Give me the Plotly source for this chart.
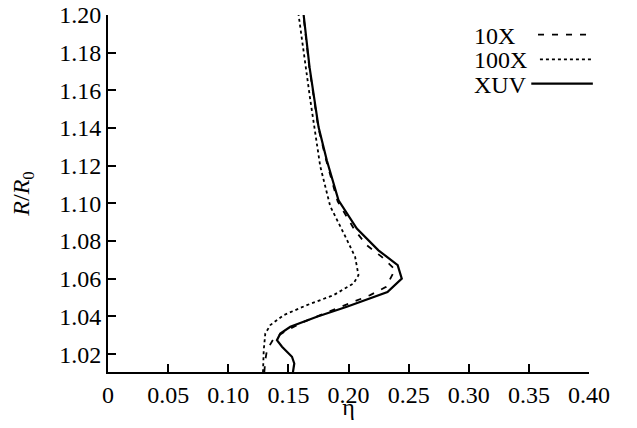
import plotly.graph_objects as go

# XUV (solid)
xuv_eta = [0.1538, 0.1549, 0.1530, 0.1447, 0.1405, 0.1433, 0.1516, 0.1737, 0.1986, 0.2180,
           0.2324, 0.2443, 0.2409, 0.2249, 0.2069, 0.1917, 0.1820, 0.1751, 0.1676, 0.1627]
xuv_r = [1.0104, 1.0150, 1.0186, 1.0239, 1.0274, 1.0309, 1.0345, 1.0398, 1.0451, 1.0495,
         1.0530, 1.0601, 1.0672, 1.0751, 1.0866, 1.1016, 1.1228, 1.1405, 1.1723, 1.2000]

# 10X (dashed)
x10_eta = [0.1300, 0.1308, 0.1322, 0.1378, 0.1488, 0.1627, 0.1765, 0.1903, 0.2042, 0.2180,
           0.2313, 0.2387, 0.2277, 0.2152, 0.2050, 0.1910, 0.1815, 0.1748, 0.1674, 0.1625]
x10_r = [1.0104, 1.0168, 1.0221, 1.0283, 1.0327, 1.0371, 1.0407, 1.0442, 1.0477, 1.0513,
         1.0557, 1.0649, 1.0716, 1.0778, 1.0860, 1.1010, 1.1228, 1.1405, 1.1723, 1.2000]

# 100X (dotted)
x100_eta = [0.1289, 0.1295, 0.1308, 0.1350, 0.1461, 0.1654, 0.1876, 0.2042, 0.2083, 0.2055,
            0.1986, 0.1848, 0.1765, 0.1682, 0.1585]
x100_r = [1.0104, 1.0221, 1.0309, 1.0354, 1.0407, 1.0460, 1.0513, 1.0575, 1.0619, 1.0716,
          1.0808, 1.0985, 1.1197, 1.1550, 1.2000]

x_tickvals = [0, 0.05, 0.10, 0.15, 0.20, 0.25, 0.30, 0.35, 0.40]
x_ticktext = ["0", "0.05", "0.10", "0.15", "0.20", "0.25", "0.30", "0.35", "0.40"]
y_tickvals = [1.02, 1.04, 1.06, 1.08, 1.10, 1.12, 1.14, 1.16, 1.18, 1.20]
y_ticktext = ["1.02", "1.04", "1.06", "1.08", "1.10", "1.12", "1.14", "1.16", "1.18", "1.20"]

legend_names = ["10X", "100X", "XUV"]

FONT = "Liberation Serif"

fig = go.Figure()
fig.add_trace(go.Scatter(x=x10_eta, y=x10_r, mode="lines", name="10X",
                         line=dict(color="black", width=1.8, dash="6px,8px")))
fig.add_trace(go.Scatter(x=x100_eta, y=x100_r, mode="lines", name="100X",
                         line=dict(color="black", width=1.8, dash="dot")))
fig.add_trace(go.Scatter(x=xuv_eta, y=xuv_r, mode="lines", name="XUV",
                         line=dict(color="black", width=2.2, dash="solid")))

leg_text_y = [0.940, 0.873, 0.803]
leg_line = [(0.894, 0.996, 0.945, "6px,8px", 1.8), (0.898, 1.006, 0.8755, "dot", 1.8),
            (0.880, 1.008, 0.808, "solid", 2.2)]
for name, ty, (x0, x1, ly, dsh, w) in zip(legend_names, leg_text_y, leg_line):
    fig.add_annotation(x=0.757, y=ty, xref="paper", yref="paper", text=name,
                       showarrow=False, xanchor="left", yanchor="middle",
                       font=dict(family=FONT, size=24, color="black"))
    fig.add_shape(type="line", xref="paper", yref="paper", x0=x0, x1=x1, y0=ly, y1=ly,
                  line=dict(color="black", width=w, dash=dsh))

# page body has an 8px margin; figure sized so it fits the window exactly
fig.update_layout(
    width=621, height=412,
    margin=dict(l=99.5, r=40, t=6.5, b=48, autoexpand=False),
    paper_bgcolor="white", plot_bgcolor="white",
    showlegend=False,
    font=dict(family=FONT, size=24, color="black"),
)
fig.update_xaxes(range=[0, 0.40], tickvals=x_tickvals, ticktext=x_ticktext,
                 showline=True, linecolor="black", linewidth=2, mirror=False,
                 ticks="inside", ticklen=8, tickwidth=2, tickcolor="black",
                 showgrid=False, zeroline=False, ticklabeloverflow="allow",
                 automargin=False,
                 title=dict(text="η", standoff=2, font=dict(size=24)),
                 tickfont=dict(size=24))
fig.update_yaxes(range=[1.0105, 1.20], tickvals=y_tickvals, ticktext=y_ticktext,
                 showline=True, linecolor="black", linewidth=2, mirror=False,
                 ticks="inside", ticklen=8, tickwidth=2, tickcolor="black",
                 showgrid=False, zeroline=False, ticklabeloverflow="allow",
                 automargin=False,
                 title=dict(text="<i>R</i>/<i>R</i><sub>0</sub>", standoff=24, font=dict(size=24)),
                 tickfont=dict(size=24))

fig.write_html("out.html")
